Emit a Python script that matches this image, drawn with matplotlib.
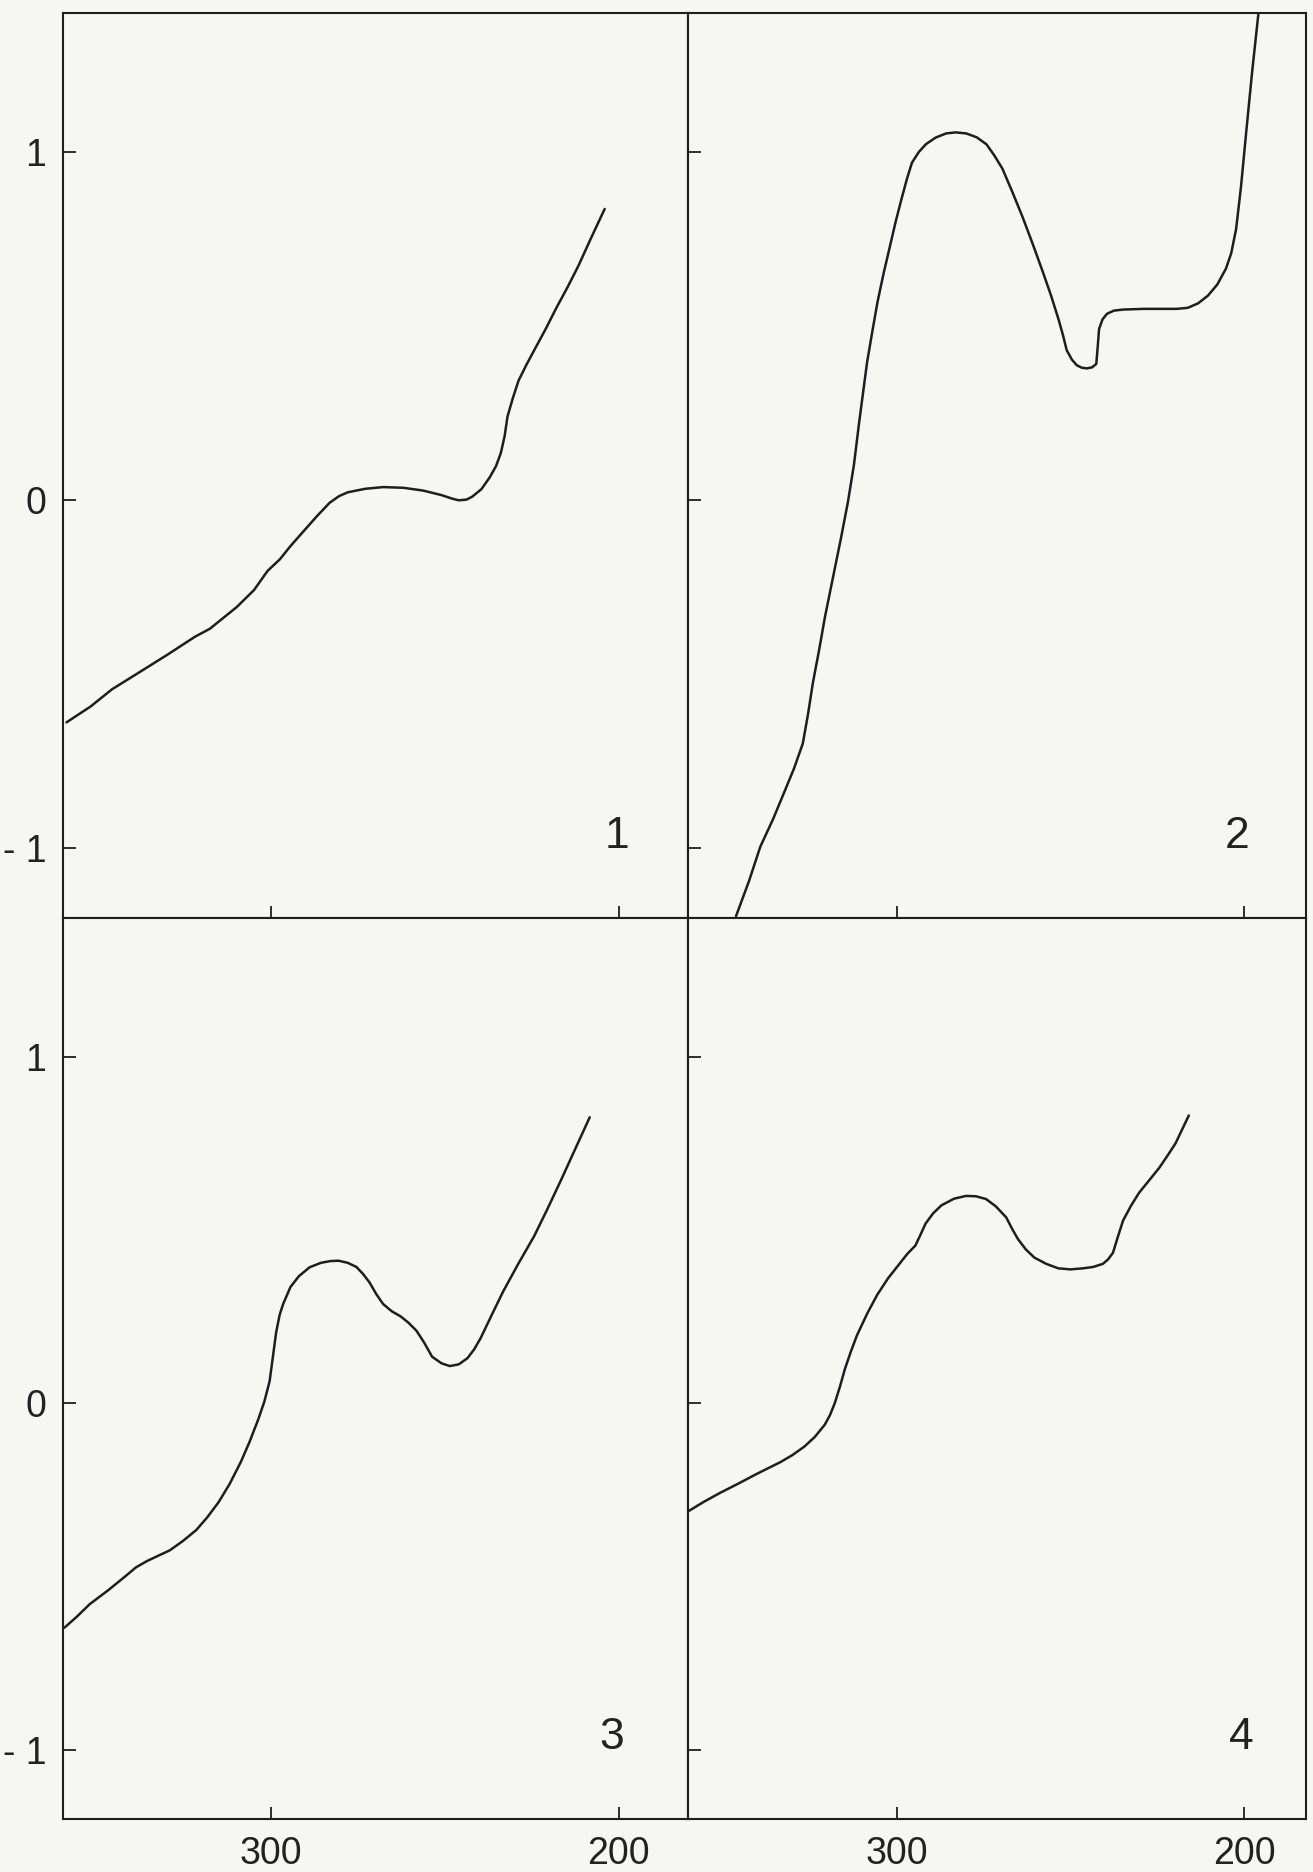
import matplotlib
matplotlib.use("Agg")
import matplotlib.pyplot as plt

# ---- data (wavelength nm, signal) ----
x1 = [359.0, 352.0, 345.9, 338.0, 330.0, 322.0, 317.7, 310.0, 305.0, 301.1, 297.5, 294.7, 291.0, 287.0,
      283.2, 280.5, 278.0, 273.0, 267.8, 262.0, 256.3, 251.0, 248.0, 246.0, 243.8, 242.2, 239.5, 237.1,
      235.3, 233.9, 232.8, 232.0, 230.5, 228.8, 226.5, 224.3, 221.0, 217.9, 214.6, 211.5, 207.8, 204.0]
y1 = [-0.638, -0.592, -0.543, -0.494, -0.444, -0.392, -0.369, -0.307, -0.258, -0.203, -0.169, -0.134,
      -0.092, -0.047, -0.007, 0.012, 0.023, 0.033, 0.038, 0.036, 0.028, 0.015, 0.005, 0.000, 0.002, 0.010,
      0.032, 0.066, 0.098, 0.136, 0.185, 0.240, 0.292, 0.344, 0.390, 0.431, 0.492, 0.553, 0.614, 0.675,
      0.756, 0.837]

x2 = [346.2, 342.5, 339.2, 335.5, 332.3, 329.5, 327.0, 325.5, 324.1, 322.3, 320.6, 318.3, 316.0, 314.0,
      312.3, 310.8, 308.5, 307.0, 305.5, 303.8, 302.0, 300.3, 298.6, 297.0, 295.6, 293.6, 291.6, 288.8,
      285.8, 283.0, 280.0, 277.0, 274.2, 272.0, 269.6, 266.7, 263.8, 260.9, 258.0, 255.6, 253.4, 252.2,
      251.1, 249.6, 248.2, 246.8, 245.3, 243.8, 242.6, 242.2, 241.8, 240.8, 239.5, 237.5, 234.9, 229.0,
      223.3, 219.5, 216.3, 213.3, 210.5, 207.8, 205.3, 203.8, 202.4, 201.0, 199.5, 197.8, 196.0]
y2 = [-1.195, -1.095, -0.995, -0.915, -0.838, -0.770, -0.699, -0.615, -0.525, -0.430, -0.334, -0.221,
      -0.108, -0.004, 0.101, 0.223, 0.397, 0.485, 0.570, 0.650, 0.727, 0.800, 0.866, 0.925, 0.970, 1.001,
      1.023, 1.042, 1.054, 1.057, 1.054, 1.043, 1.023, 0.992, 0.953, 0.885, 0.814, 0.737, 0.657, 0.588,
      0.518, 0.475, 0.431, 0.404, 0.388, 0.381, 0.379, 0.382, 0.392, 0.440, 0.492, 0.520, 0.536, 0.545,
      0.548, 0.550, 0.550, 0.550, 0.553, 0.566, 0.588, 0.620, 0.666, 0.710, 0.779, 0.900, 1.057, 1.230,
      1.397]

x3 = [359.6, 356.0, 352.3, 347.0, 342.1, 339.0, 335.7, 332.5, 329.3, 325.5, 321.6, 318.5, 315.2, 312.0,
      308.8, 306.2, 303.7, 302.0, 300.5, 299.6, 298.6, 297.6, 296.6, 294.5, 292.1, 289.0, 285.7, 283.0,
      280.6, 278.0, 275.5, 273.6, 271.7, 269.8, 267.8, 265.3, 262.7, 260.5, 258.2, 256.0, 253.7, 251.0,
      248.6, 246.0, 243.5, 241.6, 239.7, 236.5, 233.3, 229.0, 224.3, 220.5, 216.6, 212.5, 208.3]
y3 = [-0.648, -0.616, -0.580, -0.540, -0.500, -0.474, -0.455, -0.440, -0.425, -0.398, -0.366, -0.330,
      -0.286, -0.233, -0.170, -0.110, -0.045, 0.005, 0.063, 0.130, 0.205, 0.255, 0.286, 0.335, 0.366, 0.392,
      0.405, 0.410, 0.411, 0.405, 0.393, 0.373, 0.348, 0.315, 0.286, 0.265, 0.250, 0.232, 0.209, 0.175,
      0.134, 0.115, 0.107, 0.112, 0.130, 0.155, 0.188, 0.255, 0.321, 0.400, 0.482, 0.560, 0.643, 0.733,
      0.825]

x4 = [360.0, 355.5, 350.8, 345.5, 340.4, 337.0, 333.4, 330.0, 326.5, 323.5, 320.7, 319.2, 317.8, 316.3,
      314.9, 313.2, 311.4, 308.5, 305.6, 302.5, 299.2, 297.0, 294.6, 293.2, 291.7, 289.5, 287.1, 283.5,
      280.1, 277.2, 274.3, 271.5, 268.5, 266.8, 265.1, 262.8, 260.4, 257.0, 253.5, 250.0, 246.5, 243.5,
      240.7, 239.2, 237.8, 236.4, 234.9, 232.6, 230.3, 227.4, 224.5, 222.2, 219.8, 218.0, 216.0]
y4 = [-0.3125, -0.285, -0.259, -0.232, -0.205, -0.188, -0.170, -0.150, -0.125, -0.097, -0.0625, -0.035,
      0.000, 0.048, 0.098, 0.148, 0.196, 0.258, 0.3125, 0.360, 0.402, 0.430, 0.455, 0.485, 0.518, 0.548,
      0.571, 0.590, 0.598, 0.597, 0.589, 0.568, 0.536, 0.503, 0.473, 0.443, 0.420, 0.402, 0.389, 0.386,
      0.389, 0.393, 0.402, 0.415, 0.434, 0.480, 0.527, 0.570, 0.607, 0.643, 0.679, 0.713, 0.750, 0.788,
      0.830]

series = [(x1, y1), (x2, y2), (x3, y3), (x4, y4)]
panel_labels = ["1", "2", "3", "4"]
yticks = [-1, 0, 1]
ytick_labels = ["- 1", "0", "1"]
xticks = [300, 200]
xtick_labels = ["300", "200"]

# ---- figure ----
W, H = 1313, 1872
bg = "#f6f6f3"
ink = "#1e1e1e"
plt.rcParams["font.family"] = ["Liberation Sans", "DejaVu Sans"]

fig = plt.figure(figsize=(W / 100, H / 100), dpi=100, facecolor=bg)

def px_axes(x0, x1p, ytop, ybot):
    return fig.add_axes([x0 / W, 1 - ybot / H, (x1p - x0) / W, (ybot - ytop) / H])

axes = [
    px_axes(63, 688, 13, 918),
    px_axes(688, 1306, 13, 918),
    px_axes(63, 688, 918, 1819),
    px_axes(688, 1306, 918, 1819),
]
xlims = [(360, 180), (360, 182.3), (360, 180), (360, 182.3)]
label_x = [200.5, 202, 202, 201]

for i, ax in enumerate(axes):
    ax.set_facecolor(bg)
    xs, ys = series[i]
    ax.plot(xs, ys, color=ink, lw=1.8, solid_joinstyle="round", solid_capstyle="round", clip_on=True)
    ax.set_xlim(*xlims[i])
    ax.set_ylim(-1.2, 1.4)
    for s in ax.spines.values():
        s.set_color(ink)
        s.set_linewidth(1.5)
    ax.set_xticks(xticks)
    ax.set_yticks(yticks)
    ax.tick_params(direction="in", length=9, width=1.3, color=ink, labelcolor="#222222",
                   labelsize=27, pad=12, top=False, right=False)
    if i in (0, 2):
        ax.set_yticklabels(ytick_labels)
    else:
        ax.set_yticklabels([])
    if i in (2, 3):
        ax.set_xticklabels(xtick_labels)
    else:
        ax.set_xticklabels([])
    ax.text(label_x[i], -0.965, panel_labels[i], ha="center", va="center",
            fontsize=32, color="#222222")

fig.savefig("out.png", dpi=100, facecolor=bg)
